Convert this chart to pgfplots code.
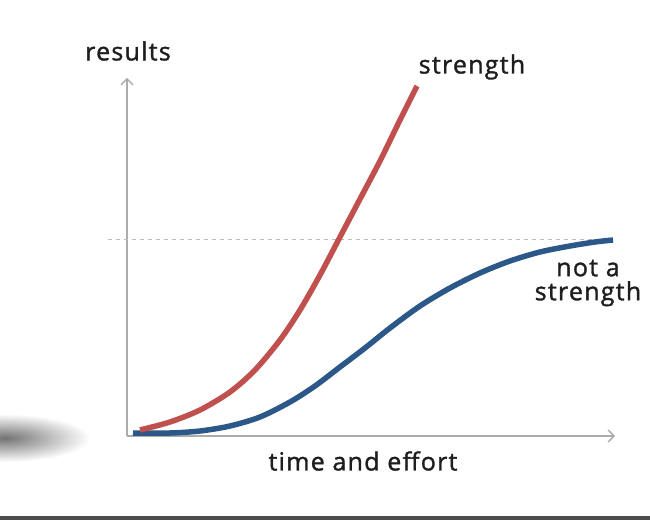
\documentclass[border=0pt]{standalone}
\usepackage{fontspec}
\setmainfont{Open Sans}[FakeBold=1.3, LetterSpace=5]
\usepackage{pgfplots}
\pgfplotsset{compat=1.18}
\usetikzlibrary{arrows.meta}
\definecolor{strred}{HTML}{C0504D}
\definecolor{nsblue}{HTML}{2B5889}
\definecolor{axgray}{HTML}{ABABAB}
\definecolor{txtgray}{HTML}{1E1E1E}
\begin{document}
\begin{tikzpicture}
\begin{axis}[
    scale only axis,
    width=650bp, height=520bp,
    xmin=0, xmax=650, ymin=0, ymax=520,
    hide axis, clip=false,
    anchor=south west, at={(0,0)},
]
% background, shadow blob and bottom bar
\fill[white] (axis cs:0,0) rectangle (axis cs:650,520);
\begin{scope}
\clip (axis cs:0,0) rectangle (axis cs:650,520);
\shade[inner color=black!55, outer color=white] (axis cs:5,82) ellipse [x radius=85bp, y radius=24bp];
\end{scope}
\fill[black!70] (axis cs:0,0) rectangle (axis cs:650,4);

% axes
\draw[axgray, line width=1.4bp, -{Straight Barb[length=6bp, width=12bp]}]
    (axis cs:127,84) -- (axis cs:615,84);
\draw[axgray, line width=1.4bp, -{Straight Barb[length=6bp, width=12bp]}]
    (axis cs:127,84) -- (axis cs:127,442);
\draw[axgray!80, line width=1bp, dash pattern=on 4bp off 4bp]
    (axis cs:108,280) -- (axis cs:613,280);

% not a strength
\addplot[nsblue, line width=5.5bp, smooth, tension=0.5, no marks] coordinates {
    (133,87) (170,87) (200,89) (230,94) (260,103) (290,118) (315,134)
    (340,153) (365,172) (390,192) (420,214) (450,232) (480,247)
    (510,259) (540,268) (570,274) (595,278) (613,280)
};
% strength
\addplot[strred, line width=5.5bp, smooth, tension=0.5, no marks] coordinates {
    (140,90) (170,98) (200,110) (230,128) (255,150) (280,180) (300,210)
    (320,245) (340,283) (360,321) (380,359) (400,400) (417,434)
};

% labels
\node[txtgray, font=\fontsize{25bp}{28bp}\selectfont] at (axis cs:128,469) {results};
\node[txtgray, font=\fontsize{25bp}{28bp}\selectfont] at (axis cs:472,453) {strength};
\node[txtgray, font=\fontsize{25bp}{28bp}\selectfont, align=center] at (axis cs:588,237) {not a\\[-4bp]strength};
\node[txtgray, font=\fontsize{25bp}{28bp}\selectfont] at (axis cs:363,59) {time and effort};
\end{axis}
\pgfresetboundingbox
\path (0,0) rectangle (650bp,520bp);
\end{tikzpicture}
\end{document}
